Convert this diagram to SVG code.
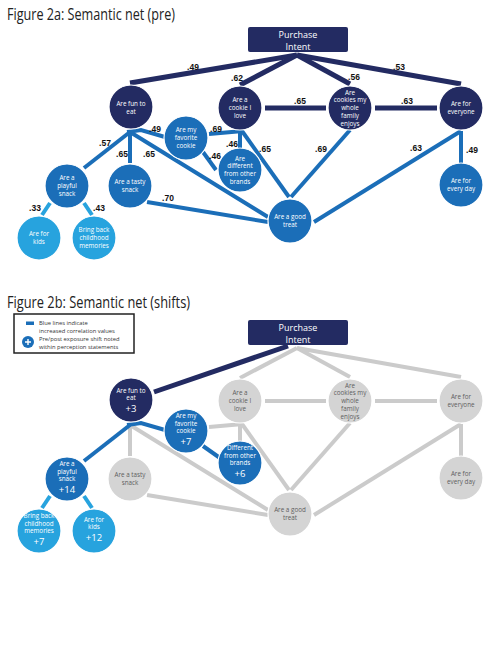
<svg xmlns="http://www.w3.org/2000/svg" width="502" height="650" viewBox="0 0 502 650">
<style>
.t{font-family:"Open Sans","Noto Sans",sans-serif;font-size:6.3px;text-anchor:middle;fill:#fff}
.big{font-size:9.5px}
.gt{fill:#5e5e5e}
.title{font-family:"Open Sans","Noto Sans",sans-serif;font-size:17px;fill:#222}
.lbl{font-family:"Liberation Sans",Arial,sans-serif;font-weight:bold;font-size:8.5px;text-anchor:middle;fill:#111}
.navy{fill:#232b62;stroke:#fff;stroke-width:1.2}
.mid{fill:#1b6eb8;stroke:#fff;stroke-width:1.2}
.lt{fill:#27a3de;stroke:#fff;stroke-width:1.2}
.gr{fill:#d4d4d4;stroke:#fff;stroke-width:1.2}
.en{stroke:#232b62;stroke-width:5;fill:none}
.em{stroke:#1b6eb8;stroke-width:4;fill:none}
.el{stroke:#27a3de;stroke-width:4;fill:none}
.eg{stroke:#cbcbcb;stroke-width:4;fill:none}
.box{fill:#232b62}
.leg{font-family:"Open Sans","Noto Sans",sans-serif;font-size:5.8px;fill:#333}
</style>

<text class="title" x="7" y="20" textLength="168" lengthAdjust="spacingAndGlyphs">Figure 2a: Semantic net (pre)</text>

<g id="edges-a">
<path class="en" d="M297,55 L130,83"/>
<path class="en" d="M297,55 L240,85"/>
<path class="en" d="M297,55 L350,84"/>
<path class="en" d="M297,55 L461,84"/>
<path class="en" d="M265,108 L326,108"/>
<path class="en" d="M375,108 L437,108"/>
<path class="em" d="M130,132 L84,168"/>
<path class="em" d="M130,132 L130,163"/>
<path class="em" d="M130,132 L268,217"/>
<path class="em" d="M127,132 L141,130 L165,137"/>
<path class="em" stroke-width="5" d="M147,202 L268,222"/>
<path class="em" stroke-width="5" d="M209,134 L243,131"/>
<path class="em" d="M240,131 L240,148"/>
<path class="em" d="M242,131 L289,197"/>
<path class="em" d="M203,152 L216,170"/>
<path class="em" d="M350,130 L291,197"/>
<path class="em" stroke-width="5" d="M461,131 L314,222"/>
<path class="em" d="M461,131 L461,163"/>
<path class="el" d="M50,203 L42,215"/>
<path class="el" d="M84,203 L92,215"/>
</g>

<g id="labels-a">
<text class="lbl" x="193" y="70">.49</text>
<text class="lbl" x="237" y="81">.62</text>
<text class="lbl" x="354" y="80">.56</text>
<text class="lbl" x="399" y="70">.53</text>
<text class="lbl" x="300" y="104">.65</text>
<text class="lbl" x="407" y="104">.63</text>
<text class="lbl" x="105" y="146">.57</text>
<text class="lbl" x="122" y="157">.65</text>
<text class="lbl" x="149" y="157">.65</text>
<text class="lbl" x="155" y="132">.49</text>
<text class="lbl" x="216" y="132">.69</text>
<text class="lbl" x="232" y="147">.46</text>
<text class="lbl" x="215" y="159">.46</text>
<text class="lbl" x="265" y="152">.65</text>
<text class="lbl" x="321" y="152">.69</text>
<text class="lbl" x="416" y="151">.63</text>
<text class="lbl" x="472" y="153">.49</text>
<text class="lbl" x="168" y="201">.70</text>
<text class="lbl" x="35" y="211">.33</text>
<text class="lbl" x="99" y="211">.43</text>
</g>

<g id="a-purchase">
<rect class="box" x="248" y="27" width="100" height="25" rx="2"/>
<text class="t" x="298" y="38" style="font-size:9px">Purchase</text>
<text class="t" x="298" y="50" style="font-size:9px">Intent</text>
</g>
<g id="a-fun"><circle class="navy" cx="131" cy="107" r="22"/>
<text class="t" x="131" y="106">Are fun to</text><text class="t" x="131" y="114">eat</text></g>
<g id="a-love"><circle class="navy" cx="240" cy="108" r="22"/>
<text class="t" x="240" y="102.4">Are a</text><text class="t" x="240" y="110.2">cookie I</text><text class="t" x="240" y="118">love</text></g>
<g id="a-family"><circle class="navy" cx="350" cy="108" r="22"/>
<text class="t" x="350" y="94.6">Are</text><text class="t" x="350" y="102.4">cookies my</text><text class="t" x="350" y="110.2">whole</text><text class="t" x="350" y="118">family</text><text class="t" x="350" y="125.8">enjoys</text></g>
<g id="a-everyone"><circle class="navy" cx="461" cy="108" r="22"/>
<text class="t" x="461" y="106.3">Are for</text><text class="t" x="461" y="114.1">everyone</text></g>
<g id="a-favorite"><circle class="mid" cx="186" cy="138" r="22"/>
<text class="t" x="186" y="132.4">Are my</text><text class="t" x="186" y="140.2">favorite</text><text class="t" x="186" y="148">cookie</text></g>
<g id="a-different"><circle class="mid" cx="240" cy="170" r="22"/>
<text class="t" x="240" y="160.5">Are</text><text class="t" x="240" y="168.3">different</text><text class="t" x="240" y="176.1">from other</text><text class="t" x="240" y="183.9">brands</text></g>
<g id="a-playful"><circle class="mid" cx="67" cy="186" r="22"/>
<text class="t" x="67" y="180.4">Are a</text><text class="t" x="67" y="188.2">playful</text><text class="t" x="67" y="196">snack</text></g>
<g id="a-tasty"><circle class="mid" cx="130" cy="186" r="22"/>
<text class="t" x="130" y="184.3">Are a tasty</text><text class="t" x="130" y="192.1">snack</text></g>
<g id="a-kids"><circle class="lt" cx="39" cy="238" r="22"/>
<text class="t" x="39" y="236.3">Are for</text><text class="t" x="39" y="244.1">kids</text></g>
<g id="a-childhood"><circle class="lt" cx="94" cy="238" r="22"/>
<text class="t" x="94" y="232.4">Bring back</text><text class="t" x="94" y="240.2">childhood</text><text class="t" x="94" y="248">memories</text></g>
<g id="a-treat"><circle class="mid" cx="290" cy="221" r="22"/>
<text class="t" x="290" y="219.3">Are a good</text><text class="t" x="290" y="227.1">treat</text></g>
<g id="a-everyday"><circle class="mid" cx="461" cy="185" r="22"/>
<text class="t" x="461" y="183.3">Are for</text><text class="t" x="461" y="191.1">every day</text></g>

<text class="title" x="7" y="308" textLength="183" lengthAdjust="spacingAndGlyphs">Figure 2b: Semantic net (shifts)</text>

<g id="legend">
<rect x="14" y="314" width="120" height="39" fill="#fff" stroke="#222" stroke-width="1.5"/>
<rect x="26" y="321.5" width="8" height="3.5" fill="#1b6eb8"/>
<text class="leg" x="39" y="324.5">Blue lines indicate</text>
<text class="leg" x="39" y="332.5">increased correlation values</text>
<circle cx="28" cy="342" r="6" fill="#1b6eb8"/>
<path d="M28,339 V345 M25,342 H31" stroke="#fff" stroke-width="1.4"/>
<text class="leg" x="39" y="340.5">Pre/post exposure shift noted</text>
<text class="leg" x="39" y="348.5">within perception statements</text>
</g>

<g id="edges-b">
<path class="eg" d="M297,348 L240,378"/>
<path class="eg" d="M297,348 L350,377"/>
<path class="eg" d="M297,348 L461,377"/>
<path class="eg" d="M265,401 L326,401"/>
<path class="eg" d="M375,401 L437,401"/>
<path class="eg" d="M130,425 L130,456"/>
<path class="eg" d="M130,425 L268,510"/>
<path class="eg" stroke-width="5" d="M147,495 L268,515"/>
<path class="eg" stroke-width="5" d="M209,427 L243,424"/>
<path class="eg" d="M240,424 L240,441"/>
<path class="eg" d="M242,424 L289,490"/>
<path class="eg" d="M350,423 L291,490"/>
<path class="eg" stroke-width="5" d="M461,424 L314,515"/>
<path class="eg" d="M461,424 L461,456"/>
<path class="en" stroke-width="6" d="M288,346 L154,392"/>
<path class="em" stroke-width="5" d="M130,425 L84,461"/>
<path class="em" stroke-width="5" d="M127,425 L141,423 L165,430"/>
<path class="em" stroke-width="5" d="M203,446 L220,458"/>
<path class="el" d="M50,496 L42,508"/>
<path class="el" d="M84,496 L92,508"/>
</g>

<g id="b-purchase">
<rect class="box" x="248" y="320" width="100" height="25" rx="2"/>
<text class="t" x="298" y="331" style="font-size:9px">Purchase</text>
<text class="t" x="298" y="343" style="font-size:9px">Intent</text>
</g>
<g id="b-fun"><circle class="navy" cx="131" cy="400" r="22"/>
<text class="t" x="131" y="392.5">Are fun to</text><text class="t" x="131" y="400">eat</text><text class="t big" x="131" y="412">+3</text></g>
<g id="b-love"><circle class="gr" cx="240" cy="401" r="22"/>
<text class="t gt" x="240" y="395.4">Are a</text><text class="t gt" x="240" y="403.2">cookie I</text><text class="t gt" x="240" y="411">love</text></g>
<g id="b-family"><circle class="gr" cx="350" cy="401" r="22"/>
<text class="t gt" x="350" y="387.6">Are</text><text class="t gt" x="350" y="395.4">cookies my</text><text class="t gt" x="350" y="403.2">whole</text><text class="t gt" x="350" y="411">family</text><text class="t gt" x="350" y="418.8">enjoys</text></g>
<g id="b-everyone"><circle class="gr" cx="461" cy="401" r="22"/>
<text class="t gt" x="461" y="399.3">Are for</text><text class="t gt" x="461" y="407.1">everyone</text></g>
<g id="b-favorite"><circle class="mid" cx="186" cy="431" r="22"/>
<text class="t" x="186" y="418">Are my</text><text class="t" x="186" y="425.5">favorite</text><text class="t" x="186" y="433">cookie</text><text class="t big" x="186" y="445">+7</text></g>
<g id="b-different"><circle class="mid" cx="240" cy="463" r="22"/>
<text class="t" x="240" y="450">Different</text><text class="t" x="240" y="457.5">from other</text><text class="t" x="240" y="465">brands</text><text class="t big" x="240" y="477">+6</text></g>
<g id="b-playful"><circle class="mid" cx="67" cy="479" r="22"/>
<text class="t" x="67" y="466">Are a</text><text class="t" x="67" y="473.5">playful</text><text class="t" x="67" y="481">snack</text><text class="t big" x="67" y="493">+14</text></g>
<g id="b-tasty"><circle class="gr" cx="130" cy="479" r="22"/>
<text class="t gt" x="130" y="477.3">Are a tasty</text><text class="t gt" x="130" y="485.1">snack</text></g>
<g id="b-childhood"><circle class="lt" cx="39" cy="531" r="22"/>
<text class="t" x="39" y="518">Bring back</text><text class="t" x="39" y="525.5">childhood</text><text class="t" x="39" y="533">memories</text><text class="t big" x="39" y="545">+7</text></g>
<g id="b-kids"><circle class="lt" cx="94" cy="531" r="22"/>
<text class="t" x="94" y="521.5">Are for</text><text class="t" x="94" y="529">kids</text><text class="t big" x="94" y="541">+12</text></g>
<g id="b-treat"><circle class="gr" cx="290" cy="514" r="22"/>
<text class="t gt" x="290" y="512.3">Are a good</text><text class="t gt" x="290" y="520.1">treat</text></g>
<g id="b-everyday"><circle class="gr" cx="461" cy="478" r="22"/>
<text class="t gt" x="461" y="476.3">Are for</text><text class="t gt" x="461" y="484.1">every day</text></g>
</svg>
